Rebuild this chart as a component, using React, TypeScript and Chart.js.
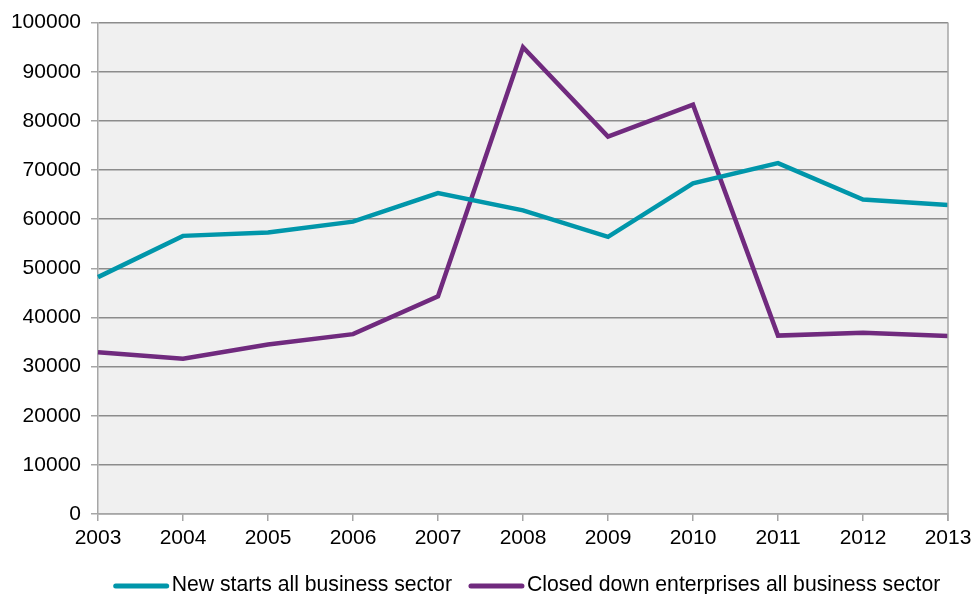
import React, { useEffect, useRef } from "react";
import { Chart, registerables } from "chart.js";

Chart.register(...registerables);

const years = ["2003", "2004", "2005", "2006", "2007", "2008", "2009", "2010", "2011", "2012", "2013"];
const newStarts = [48200, 56600, 57300, 59500, 65300, 61800, 56400, 67300, 71400, 64000, 62900];
const closedDown = [32900, 31600, 34500, 36600, 44300, 95000, 76800, 83300, 36300, 36900, 36200];
const seriesNames = ["New starts all business sector", "Closed down enterprises all business sector"];
const seriesColors = ["#0096AA", "#702A7E"];
const yMin = 0;
const yMax = 100000;
const yStep = 10000;

const FONT = "'Liberation Sans', Arial, sans-serif";
const FONT_SIZE = 21;
const LEGEND_FONT_SIZE = 21.2;

const plotBgPlugin = {
  id: "plotBg",
  beforeDraw(chart: any) {
    const { ctx, chartArea } = chart;
    ctx.save();
    ctx.fillStyle = "#f0f0f0";
    ctx.fillRect(chartArea.left, chartArea.top, chartArea.right - chartArea.left, chartArea.bottom - chartArea.top);
    ctx.restore();
  },
  afterDatasetsDraw(chart: any) {
    const { ctx, chartArea } = chart;
    ctx.save();
    ctx.strokeStyle = "#a6a6a6";
    ctx.lineWidth = 1.5;
    ctx.beginPath();
    ctx.moveTo(chartArea.right, chartArea.top);
    ctx.lineTo(chartArea.right, chartArea.bottom + 7);
    ctx.stroke();
    ctx.restore();
  },
};

const customLegendPlugin = {
  id: "customLegend",
  afterDraw(chart: any) {
    const { ctx, chartArea } = chart;
    ctx.save();
    ctx.font = `${LEGEND_FONT_SIZE}px ${FONT}`;
    const lineLen = 55;
    const textGap = 3;
    const itemGap = 17;
    const widths = seriesNames.map((n) => ctx.measureText(n).width);
    const total = widths.reduce((a, w) => a + lineLen + textGap + w, 0) + itemGap * (seriesNames.length - 1);
    const center = (chartArea.left + chartArea.right) / 2 + 4;
    let x = center - total / 2;
    const y = chartArea.bottom + 72;
    seriesNames.forEach((name, i) => {
      ctx.strokeStyle = seriesColors[i];
      ctx.lineWidth = 5;
      ctx.lineCap = "round";
      ctx.beginPath();
      ctx.moveTo(x + 2, y);
      ctx.lineTo(x + lineLen - 2, y);
      ctx.stroke();
      ctx.fillStyle = "#000";
      ctx.textBaseline = "middle";
      ctx.textAlign = "left";
      ctx.fillText(name, x + lineLen + textGap, y - 1);
      x += lineLen + textGap + widths[i] + itemGap;
    });
    ctx.restore();
  },
};

export default function App() {
  const canvasRef = useRef<HTMLCanvasElement | null>(null);

  useEffect(() => {
    document.body.style.margin = "0";
    const canvas = canvasRef.current;
    if (!canvas) return;
    const chart = new Chart(canvas, {
      type: "line",
      data: {
        labels: years,
        datasets: [
          {
            label: seriesNames[0],
            data: newStarts,
            borderColor: seriesColors[0],
            backgroundColor: seriesColors[0],
            borderWidth: 4.5,
            pointRadius: 0,
            tension: 0,
          },
          {
            label: seriesNames[1],
            data: closedDown,
            borderColor: seriesColors[1],
            backgroundColor: seriesColors[1],
            borderWidth: 4.5,
            pointRadius: 0,
            tension: 0,
          },
        ],
      },
      options: {
        animation: false,
        responsive: false,
        maintainAspectRatio: false,
        layout: { padding: { top: 22, right: 26, bottom: 0, left: 0 } },
        plugins: {
          legend: { display: false },
          tooltip: { enabled: false },
        },
        scales: {
          x: {
            offset: false,
            afterFit(scale: any) {
              scale.height = 80;
              scale.paddingRight = 0;
              scale.paddingLeft = 0;
            },
            grid: {
              drawOnChartArea: false,
              color: "#a6a6a6",
              tickColor: "#a6a6a6",
              tickLength: 7,
              lineWidth: 1.5,
            },
            border: { color: "#a6a6a6", width: 1.5 },
            ticks: {
              color: "#000",
              font: { family: FONT, size: FONT_SIZE },
              padding: 5,
              maxRotation: 0,
              autoSkip: false,
            },
          },
          y: {
            min: yMin,
            max: yMax,
            afterFit(scale: any) {
              scale.width = 98;
            },
            grid: {
              color: "#8c8c8c",
              tickColor: "#a6a6a6",
              tickLength: 7,
              lineWidth: 1.5,
            },
            border: { color: "#a6a6a6", width: 1.5 },
            ticks: {
              stepSize: yStep,
              color: "#000",
              font: { family: FONT, size: FONT_SIZE },
              padding: 10,
              callback: (v: any) => String(v),
            },
          },
        },
      },
      plugins: [plotBgPlugin, customLegendPlugin],
    });
    return () => chart.destroy();
  }, []);

  return (
    <div style={{ position: "relative", width: 974, height: 594 }}>
      <canvas ref={canvasRef} width={974} height={594} style={{ display: "block" }} />
    </div>
  );
}
